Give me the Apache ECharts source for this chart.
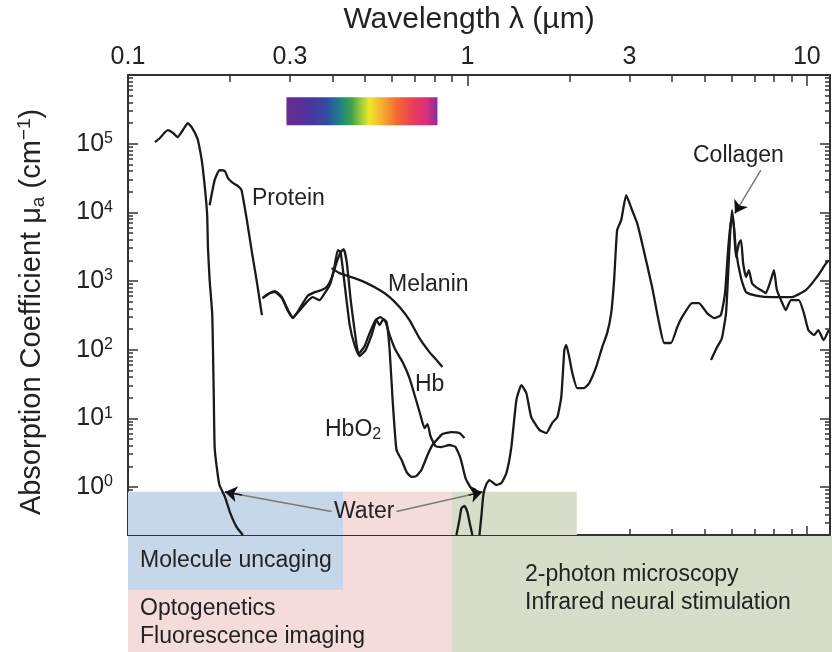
<!DOCTYPE html>
<html>
<head>
<meta charset="utf-8">
<title>Absorption spectra of tissue chromophores</title>
<script src="https://cdn.jsdelivr.net/npm/echarts@6.0.0/dist/echarts.min.js"></script>
<style>
  html, body { margin: 0; padding: 0; background: #fff; }
  #chart { width: 832px; height: 652px; }
</style>
</head>
<body>
<div id="chart"></div>
<script>
// wavelength in um, absorption coefficient in cm^-1
const waterUvLambda = [0.120, 0.124, 0.131, 0.136, 0.140, 0.145, 0.150, 0.154, 0.160, 0.163, 0.166, 0.171,
  0.172, 0.174, 0.177, 0.178, 0.179, 0.180, 0.183, 0.186, 0.193, 0.200, 0.209, 0.218];
const waterUvMu = [1.05e5, 1.2e5, 1.57e5, 1.42e5, 1.24e5, 1.57e5, 1.99e5, 1.74e5, 1.2e5, 8.0e4, 4.5e4, 9.7e3,
  3.1e3, 1030, 341, 99, 18.5, 3.8, 1.77, 1.07, 0.72, 0.42, 0.26, 0.2];

const waterBumpLambda = [0.928, 0.947, 0.960, 0.980, 1.00, 1.014, 1.034];
const waterBumpMu = [0.2, 0.33, 0.49, 0.53, 0.43, 0.31, 0.2];

const waterIrLambda = [1.085, 1.10, 1.114, 1.137, 1.161, 1.217, 1.259, 1.303, 1.347, 1.394,
  1.442, 1.491, 1.542, 1.629, 1.708, 1.778, 1.84, 1.89, 1.93, 1.955,
  1.995, 2.037, 2.106, 2.208, 2.285, 2.395, 2.495, 2.58, 2.652, 2.705,
  2.761, 2.838, 2.936, 3.055, 3.162, 3.27, 3.50, 3.67, 3.80, 3.98,
  4.15, 4.29, 4.59, 4.81, 5.08, 5.33, 5.58, 5.74, 5.86, 5.97,
  6.06, 6.18, 6.40, 6.62, 7.22, 7.89, 9.03, 9.93, 10.7, 11.4, 11.6];
const waterIrMu = [0.2, 0.39, 0.77, 1.1, 1.26, 1.07, 1.14, 1.6, 3.8, 18.5,
  30.5, 23.4, 10.4, 6.8, 6.1, 8.6, 10.4, 20.4, 99, 117,
  78, 46, 27.6, 27.6, 32.6, 56, 109, 174, 341, 1030,
  5510, 7700, 17800, 10800, 6960, 3560, 815, 244, 125, 125,
  213, 298, 477, 477, 341, 288, 319, 667, 2820, 7200,
  8240, 2820, 1100, 689, 603, 583, 583, 738, 1140, 1820, 2010];

const proteinLambda = [0.174, 0.180, 0.186, 0.193, 0.197, 0.204, 0.211, 0.216, 0.224, 0.232, 0.240, 0.248];
const proteinMu = [1.27e4, 2.94e4, 4.11e4, 3.98e4, 3.15e4, 2.66e4, 2.41e4, 2.10e4, 7700, 2550, 931, 319];

const melaninLambda = [0.398, 0.420, 0.465, 0.505, 0.551, 0.590, 0.631, 0.675, 0.722, 0.773, 0.811, 0.844];
const melaninMu = [1540, 1300, 1100, 931, 738, 583, 417, 270, 147, 92.2, 70.6, 55.8];

const hbLambda = [0.249, 0.262, 0.271, 0.284, 0.296, 0.306, 0.321, 0.338, 0.355, 0.372,
  0.385, 0.398, 0.412, 0.423, 0.432, 0.441, 0.453, 0.465, 0.478, 0.498,
  0.515, 0.536, 0.555, 0.574, 0.590, 0.614, 0.644, 0.675, 0.703, 0.727,
  0.747, 0.763, 0.778, 0.805, 0.838, 0.885, 0.922, 0.954, 0.987, 1.02, 1.06];
const hbMu = [564, 667, 689, 564, 365, 288, 403, 603, 689, 738,
  815, 1100, 1880, 2630, 2910, 1880, 527, 193, 86.3, 113,
  174, 270, 298, 252, 163, 98.6, 66, 38.6, 19.8, 11.2,
  7.22, 8.26, 5.53, 3.95, 3.82, 4.09, 3.82, 2.64, 1.35, 1.0, 0.90];

const hbo2Lambda = [0.249, 0.262, 0.271, 0.284, 0.296, 0.306, 0.321, 0.336, 0.350, 0.367,
  0.380, 0.393, 0.404, 0.415, 0.423, 0.435, 0.450, 0.465, 0.481, 0.501,
  0.522, 0.540, 0.551, 0.566, 0.578, 0.590, 0.602, 0.618, 0.640, 0.662,
  0.684, 0.708, 0.732, 0.763, 0.789, 0.844, 0.897, 0.947, 0.980];
const hbo2Mu = [564, 667, 713, 583, 377, 298, 377, 493, 583, 527,
  667, 871, 1440, 2820, 2630, 871, 228, 117, 80.7, 98.6,
  163, 270, 228, 279, 252, 98.6, 18.5, 3.46, 2.47, 1.65,
  1.40, 1.45, 1.77, 2.92, 4.09, 5.91, 6.31, 6.11, 5.17];

const collagenLambda = [5.22, 5.44, 5.62, 5.78, 5.86, 5.94, 6.02, 6.10, 6.18, 6.31,
  6.40, 6.49, 6.62, 6.75, 6.89, 7.08, 7.32, 7.57, 7.83, 8.0,
  8.16, 8.39, 8.67, 8.97, 9.47, 9.80, 10.1, 10.5, 10.8, 11.2, 11.6];
const collagenMu = [70.6, 109, 147, 341, 1220, 4660, 10800, 5890, 2230, 3560,
  3940, 1820, 1140, 1440, 931, 815, 738, 667, 1030, 1440,
  738, 527, 377, 527, 527, 341, 193, 163, 193, 138, 193];

// axis ranges and labelled ticks
const X_MIN = 0.1, X_MAX = 11.7;
const Y_MIN = 0.2, Y_MAX = 1e6;
const xLabelValues = [0.1, 0.3, 1, 3, 10];
const yLabelExponents = [0, 1, 2, 3, 4, 5];

// application bands (um) and the visible-spectrum strip
const bandFrom = [0.1, 0.43, 0.9];
const bandTo = [0.43, 0.9, 2.1];
const bandTop = 0.85;
const spectrumFrom = 0.293, spectrumTo = 0.816;
const spectrumLow = 1.86e5, spectrumHigh = 4.75e5;

// annotation arrows: [from, to] as [um, cm^-1]
const waterArrowLeft = [[0.398, 0.44], [0.193, 0.846]];
const waterArrowRight = [[0.618, 0.44], [1.107, 0.846]];
const collagenArrow = [[7.32, 4.11e4], [6.14, 9730]];

const FONT = '"Liberation Sans", Arial, Helvetica, sans-serif';
const INK = "#222";
const AXIS = "#333";
const CURVE = "#1a1a1a";
const BAND_COLORS = ["#c6d7ea", "#f3dcda", "#d6ddc9"];

const lg = Math.log10;
const toPoints = (xs, ys) => xs.map((x, i) => [lg(x), lg(ys[i])]);

// tick positions at k * 10^d, split into decades and the 2..9 in between
function logTicks(lo, hi) {
  const major = [], minor = [];
  for (let d = Math.floor(lg(lo)); d <= Math.ceil(lg(hi)); d++) {
    for (let k = 1; k < 10; k++) {
      const v = k * Math.pow(10, d);
      if (v < lo * 0.999 || v > hi * 1.001) continue;
      (k === 1 ? major : minor).push(lg(v));
    }
  }
  return { major, minor };
}
const xTicks = logTicks(X_MIN, X_MAX);
const yTicks = logTicks(Y_MIN, Y_MAX);

const tickLine = { color: AXIS, width: 1.5 };

function axisDef(dim, position, ticks, length, extra) {
  const lo = dim === "x" ? X_MIN : Y_MIN;
  const hi = dim === "x" ? X_MAX : Y_MAX;
  return Object.assign({
    type: "value",
    position,
    min: lg(lo),
    max: lg(hi),
    axisLine: { show: false, onZero: false },
    splitLine: { show: false },
    axisLabel: { show: false },
    axisTick: { show: true, inside: true, length, customValues: ticks, lineStyle: tickLine },
  }, extra || {});
}

const frame = { show: true, onZero: false, lineStyle: { color: AXIS, width: 2 } };

const arrowMark = (pair) => {
  const [a, b] = pair.map(p => [lg(p[0]), lg(p[1])]);
  const t = 0.84;
  const near = [a[0] + (b[0] - a[0]) * t, a[1] + (b[1] - a[1]) * t];
  return [
    [{ coord: a, symbol: "none" }, { coord: b, symbol: "none" }],
    [{ coord: near, symbol: "none", lineStyle: { color: "#111", width: 1.5 } }, { coord: b, symbol: "arrow" }],
  ];
};

const curve = (name, xs, ys, extra) => Object.assign({
  name,
  type: "line",
  data: toPoints(xs, ys),
  xAxisIndex: 0,
  yAxisIndex: 0,
  showSymbol: false,
  symbol: "none",
  smooth: 0.15,
  silent: true,
  z: 3,
  lineStyle: { color: CURVE, width: 2.3 },
}, extra || {});

const spectrumGradient = new echarts.graphic.LinearGradient(0, 0, 1, 0, [
  { offset: 0.00, color: "#6a2a8e" },
  { offset: 0.16, color: "#4a35a0" },
  { offset: 0.27, color: "#2f4fa0" },
  { offset: 0.35, color: "#1d7f8c" },
  { offset: 0.43, color: "#3ca24a" },
  { offset: 0.50, color: "#a8cf3a" },
  { offset: 0.55, color: "#f2e62a" },
  { offset: 0.63, color: "#f7b030" },
  { offset: 0.73, color: "#f26a30" },
  { offset: 0.84, color: "#ec3a5a" },
  { offset: 0.93, color: "#d4307e" },
  { offset: 1.00, color: "#8a2c96" },
]);

const bandAreas = bandFrom.map((f, i) => [
  { coord: [lg(f), lg(Y_MIN)], itemStyle: { color: BAND_COLORS[i] } },
  { coord: [lg(bandTo[i]), lg(bandTop)] },
]);
bandAreas.push([
  { coord: [lg(spectrumFrom), lg(spectrumLow)], itemStyle: { color: spectrumGradient } },
  { coord: [lg(spectrumTo), lg(spectrumHigh)] },
]);

const chart = echarts.init(document.getElementById("chart"), null, { renderer: "canvas" });

chart.setOption({
  animation: false,
  backgroundColor: "#fff",
  textStyle: { fontFamily: FONT, color: INK },
  grid: { left: 128, top: 75, right: 2, bottom: 117, containLabel: false },
  xAxis: [
    axisDef("x", "top", xTicks.major, 11, {
      axisLine: frame,
      axisLabel: {
        show: true,
        customValues: xLabelValues.map(lg),
        margin: 5,
        fontSize: 25,
        fontFamily: FONT,
        color: INK,
        formatter: (v) => String(Math.round(Math.pow(10, v) * 10) / 10),
      },
      name: "Wavelength \u03bb (\u00b5m)",
      nameLocation: "middle",
      nameGap: 40,
      nameTextStyle: { fontSize: 30, fontFamily: FONT, color: INK, padding: [0, 20, 0, 0] },
    }),
    axisDef("x", "top", xTicks.minor, 7),
    axisDef("x", "bottom", xTicks.major, 9, { axisLine: frame }),
    axisDef("x", "bottom", xTicks.minor, 6),
  ],
  yAxis: [
    axisDef("y", "left", yTicks.major, 10, {
      axisLine: frame,
      axisLabel: {
        show: true,
        customValues: yLabelExponents,
        margin: 15,
        formatter: (v) => "{b|10}{s|" + Math.round(v) + "}",
        rich: {
          b: { fontSize: 25, fontFamily: FONT, color: INK, lineHeight: 26 },
          s: { fontSize: 16, fontFamily: FONT, color: INK, lineHeight: 16, verticalAlign: "top" },
        },
      },
      name: "{n|Absorption Coefficient \u03bc}{sub|a}{n| (cm}{sup|\u22121}{n|)}",
      nameLocation: "middle",
      nameGap: 80,
      nameTextStyle: {
        padding: [0, 14, 0, 0],
        rich: {
          n: { fontSize: 29, fontFamily: FONT, color: INK, lineHeight: 33 },
          sub: { fontSize: 19, fontFamily: FONT, color: INK, lineHeight: 10, verticalAlign: "bottom" },
          sup: { fontSize: 19, fontFamily: FONT, color: INK, lineHeight: 18, verticalAlign: "top" },
        },
      },
    }),
    axisDef("y", "left", yTicks.minor, 5),
    axisDef("y", "right", yTicks.major, 10, { axisLine: frame }),
    axisDef("y", "right", yTicks.minor, 5),
  ],
  series: [
    curve("Water (UV)", waterUvLambda, waterUvMu, {
      markArea: { silent: true, data: bandAreas },
      markLine: {
        silent: true,
        symbolSize: 12,
        label: { show: false },
        lineStyle: { color: "#7a7a7a", width: 1.5, type: "solid" },
        data: [].concat(arrowMark(waterArrowLeft), arrowMark(waterArrowRight), arrowMark(collagenArrow)),
      },
    }),
    curve("Water (0.98 um)", waterBumpLambda, waterBumpMu),
    curve("Water (IR)", waterIrLambda, waterIrMu),
    curve("Protein", proteinLambda, proteinMu),
    curve("Melanin", melaninLambda, melaninMu),
    curve("Hb", hbLambda, hbMu),
    curve("HbO2", hbo2Lambda, hbo2Mu),
    curve("Collagen", collagenLambda, collagenMu),
  ],
});

// boxes under the axis continue the bands; their x edges come from the axis scale
const px = (v) => chart.convertToPixel({ xAxisIndex: 0 }, lg(v));
const plotBottom = chart.convertToPixel({ yAxisIndex: 0 }, lg(Y_MIN));
const W = chart.getWidth(), H = chart.getHeight();
const boxTop = plotBottom + 1;

const label = (text, x, y, extra) => Object.assign({
  type: "text",
  x, y, z: 100, silent: true,
  style: { text, fill: INK, font: "23px " + FONT, align: "left", verticalAlign: "middle" },
}, extra || {});

chart.setOption({
  graphic: [
    { type: "rect", silent: true, z: 0, shape: { x: px(bandFrom[0]), y: boxTop, width: px(bandTo[1]) - px(bandFrom[0]), height: H - boxTop }, style: { fill: BAND_COLORS[1] } },
    { type: "rect", silent: true, z: 1, shape: { x: px(bandFrom[0]), y: boxTop, width: px(bandTo[0]) - px(bandFrom[0]), height: 590 - boxTop }, style: { fill: BAND_COLORS[0] } },
    { type: "rect", silent: true, z: 0, shape: { x: px(bandFrom[2]), y: boxTop, width: W - px(bandFrom[2]), height: H - boxTop }, style: { fill: BAND_COLORS[2] } },
    label("Molecule uncaging", 140, 561),
    label("Optogenetics", 140, 609),
    label("Fluorescence imaging", 140, 637),
    label("2-photon microscopy", 525, 575),
    label("Infrared neural stimulation", 525, 603),
    label("Protein", 252, 199),
    label("Melanin", 388, 285),
    label("Hb", 415, 385),
    {
      type: "text", x: 325, y: 430, z: 100, silent: true,
      style: {
        text: "{m|HbO}{s|2}", align: "left", verticalAlign: "middle",
        rich: {
          m: { font: "23px " + FONT, fill: INK, lineHeight: 26 },
          s: { font: "16px " + FONT, fill: INK, lineHeight: 8, verticalAlign: "bottom" },
        },
      },
    },
    label("Collagen", 693, 156),
    label("Water", 334, 512),
  ],
});
</script>
</body>
</html>
